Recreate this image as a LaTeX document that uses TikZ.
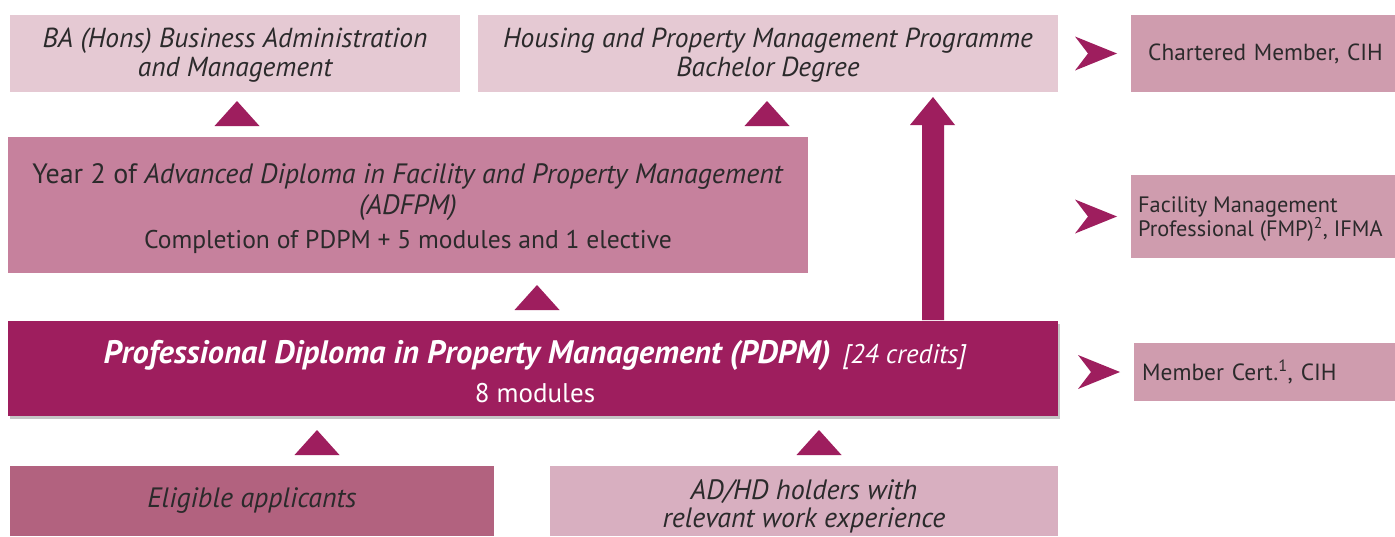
\documentclass[tikz,border=0pt]{standalone}
\usepackage{fontspec}
\setmainfont{PT Sans}
\usetikzlibrary{shadows}
\definecolor{lightpk}{HTML}{E5C9D3}
\definecolor{midpk}{HTML}{C6819D}
\definecolor{rightpk}{HTML}{CF9CAE}
\definecolor{darkpk}{HTML}{9E1E5E}
\definecolor{elpk}{HTML}{B2627F}
\definecolor{adpk}{HTML}{D8AFC0}
\definecolor{txt}{HTML}{2B2A2B}
\tikzset{
  box/.style={rectangle, inner sep=0pt, text=txt, align=center},
  rbox/.style={rectangle, inner ysep=0pt, text=txt, align=left, fill=rightpk, anchor=west},
  marker/.style={fill=darkpk, draw=none},
}
\begin{document}
\begin{tikzpicture}[x=1pt,y=-1pt]
\useasboundingbox (0,0) rectangle (1395,536);
\fill[white] (0,0) rectangle (1395,536);
% top row
\node[box, fill=lightpk, minimum width=450pt, minimum height=77pt] (ba) at (235,53.5) {};
\node[box, font=\fontsize{27.5}{29}\selectfont\itshape] at (235,55.5)
  {BA (Hons) Business Administration\\and Management};
\node[box, fill=lightpk, minimum width=580pt, minimum height=77pt] (hp) at (768,53.5) {};
\node[box, font=\fontsize{27.5}{29}\selectfont\itshape] at (768,55.5)
  {Housing and Property Management Programme\\Bachelor Degree};
\node[rbox, minimum height=77pt, inner xsep=17pt, text width=290pt,
      font=\fontsize{23.3}{26}\selectfont] (cm) at (1131,53.5)
  {Chartered Member, CIH};
% ADFPM
\node[box, fill=midpk, minimum width=800pt, minimum height=136pt] (adf) at (408,205) {};
\node[box, font=\fontsize{28}{30.5}\selectfont] at (408,209)
  {Year 2 of \textit{Advanced Diploma in Facility and Property Management}\\
   \textit{(ADFPM)}\\[4pt]
   {\fontsize{25.6}{28}\selectfont Completion of PDPM + 5 modules and 1 elective}};
\node[rbox, minimum height=83pt, inner xsep=7pt, text width=290pt] (fmp) at (1131,216.5) {};
\node[anchor=west, inner sep=0pt, text=txt, align=left,
      font=\fontsize{22.3}{24}\selectfont] at (1138,219)
  {Facility Management\\Professional (FMP)\textsuperscript{2}, IFMA};
% PDPM
\node[box, fill=darkpk, minimum width=1050pt, minimum height=95pt,
      drop shadow={shadow xshift=2pt, shadow yshift=-3pt, opacity=0.45}] (pdpm) at (533,368.5) {};
\node[box, text=white, font=\fontsize{27}{39}\selectfont] at (535,371.5)
  {{\fontsize{32.5}{36}\selectfont\bfseries\itshape Professional Diploma in Property Management (PDPM)}\hspace{12pt}%
   {\itshape [24 credits]}\\
   8 modules};
\node[rbox, minimum height=58pt, inner xsep=8pt, text width=290pt,
      font=\fontsize{23.4}{26}\selectfont] (mc) at (1134,372)
  {Member Cert.\textsuperscript{1}, CIH};
% bottom
\node[box, fill=elpk, minimum width=484pt, minimum height=70pt] (el) at (252,501) {};
\node[box, font=\fontsize{28}{29}\selectfont\itshape] at (252,501) {Eligible applicants};
\node[box, fill=adpk, minimum width=508pt, minimum height=70pt] (ad) at (804,501) {};
\node[box, font=\fontsize{28}{28}\selectfont\itshape] at (804,506)
  {AD/HD holders with\\relevant work experience};
% up triangles
\foreach \cx/\ty in {237/101, 767/101, 537/285, 317/430, 819/430}{
  \fill[marker] (\cx-22.5,\ty+25) -- (\cx,\ty) -- (\cx+22.5,\ty+25) -- cycle;
}
% chevrons
\foreach \n/\dx in {cm/-56, fmp/-56, mc/-56}{
  \path (\n.west) ++(\dx,0) coordinate (c\n);
  \fill[marker] (c\n) ++(0,-17) -- ++(42,17) -- ++(-42,17) -- ++(13,-17) -- cycle;
}
% big arrow from PDPM to Housing
\coordinate (bt) at (933,97);
\fill[marker] (922,320) -- (922,125) -- (910,125) -- (bt) -- (955,125) -- (944,125) -- (944,320) -- cycle;
\end{tikzpicture}
\end{document}
